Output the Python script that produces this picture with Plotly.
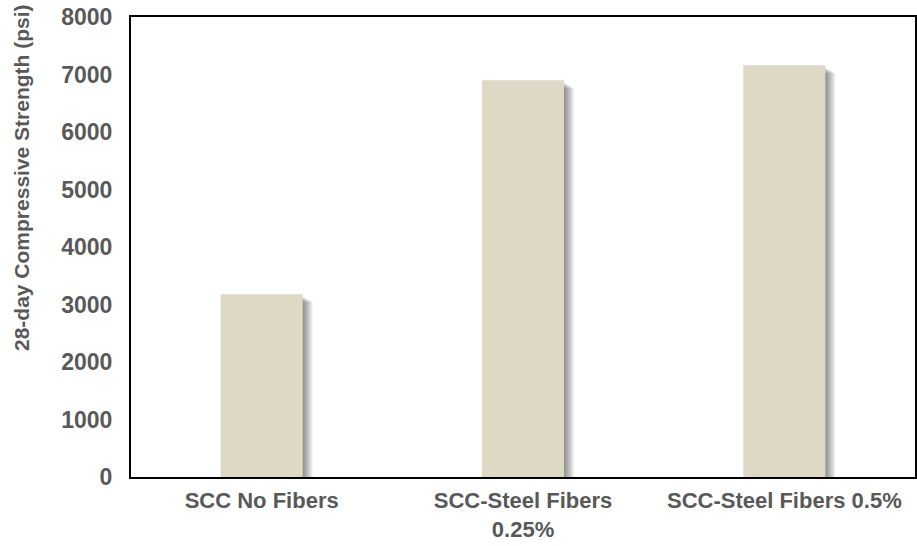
import plotly.graph_objects as go

# Data
categories = ["SCC No Fibers", "SCC-Steel Fibers<br>0.25%", "SCC-Steel Fibers 0.5%"]
strength_psi = [3180, 6900, 7160]
y_ticks = [0, 1000, 2000, 3000, 4000, 5000, 6000, 7000, 8000]
y_title = "28-day Compressive Strength (psi)"

BAR_COLOR = "#DDD9C4"
TEXT_COLOR = "#595959"
FONT = "Arial, 'Liberation Sans', sans-serif"
BAR_W = 0.314           # bar width in category units
PX_X = 1 / 261          # one pixel in category units
PX_Y = 1000 / 57.5      # one pixel in psi

ML, MR, MT, MB = 131, 2, 17, 69
PLOT_W = 917 - ML - MR
PLOT_H = 546 - MT - MB

fig = go.Figure()

# soft drop shadow: stacked translucent copies shifted right/down
n_layers = 10
for k in range(1, n_layers + 1):
    fig.add_trace(go.Bar(
        x=categories,
        y=[v - (3 + k) * PX_Y * 0.6 for v in strength_psi],
        width=BAR_W,
        offset=-BAR_W / 2 + k * PX_X,
        marker=dict(color="rgba(0,0,0,0.05)", line=dict(width=0)),
        hoverinfo="skip",
        showlegend=False,
    ))

fig.add_trace(go.Bar(
    x=categories,
    y=strength_psi,
    width=BAR_W,
    offset=-BAR_W / 2,
    marker=dict(color=BAR_COLOR, line=dict(width=0)),
    showlegend=False,
))

fig.update_layout(
    width=917,
    height=546,
    barmode="overlay",
    plot_bgcolor="white",
    paper_bgcolor="white",
    margin=dict(l=ML, r=MR, t=MT, b=MB, autoexpand=False),
    font=dict(family=FONT, color=TEXT_COLOR, size=23),
)

fig.update_xaxes(
    type="category",
    automargin=False,
    showline=True, linecolor="black", linewidth=2, mirror=True,
    showgrid=False, ticks="",
    tickfont=dict(family=FONT, size=22, color=TEXT_COLOR, weight="bold"),
    ticklabelstandoff=3,
)

fig.update_yaxes(
    range=[0, 8000],
    automargin=False,
    tickvals=y_ticks,
    showline=True, linecolor="black", linewidth=2, mirror=True,
    showgrid=False, zeroline=False, ticks="",
    tickfont=dict(family=FONT, size=23, color=TEXT_COLOR, weight="bold"),
    ticklabelstandoff=12,
)

# rotated axis title, sitting in the upper part of the left margin
fig.add_annotation(
    text=y_title,
    textangle=-90,
    xref="paper", yref="paper",
    x=(21 - ML) / PLOT_W, y=(PLOT_H + MT - 178) / PLOT_H,
    xanchor="center", yanchor="middle",
    showarrow=False,
    font=dict(family=FONT, size=21, color=TEXT_COLOR, weight="bold"),
)

fig.write_html("out.html")
